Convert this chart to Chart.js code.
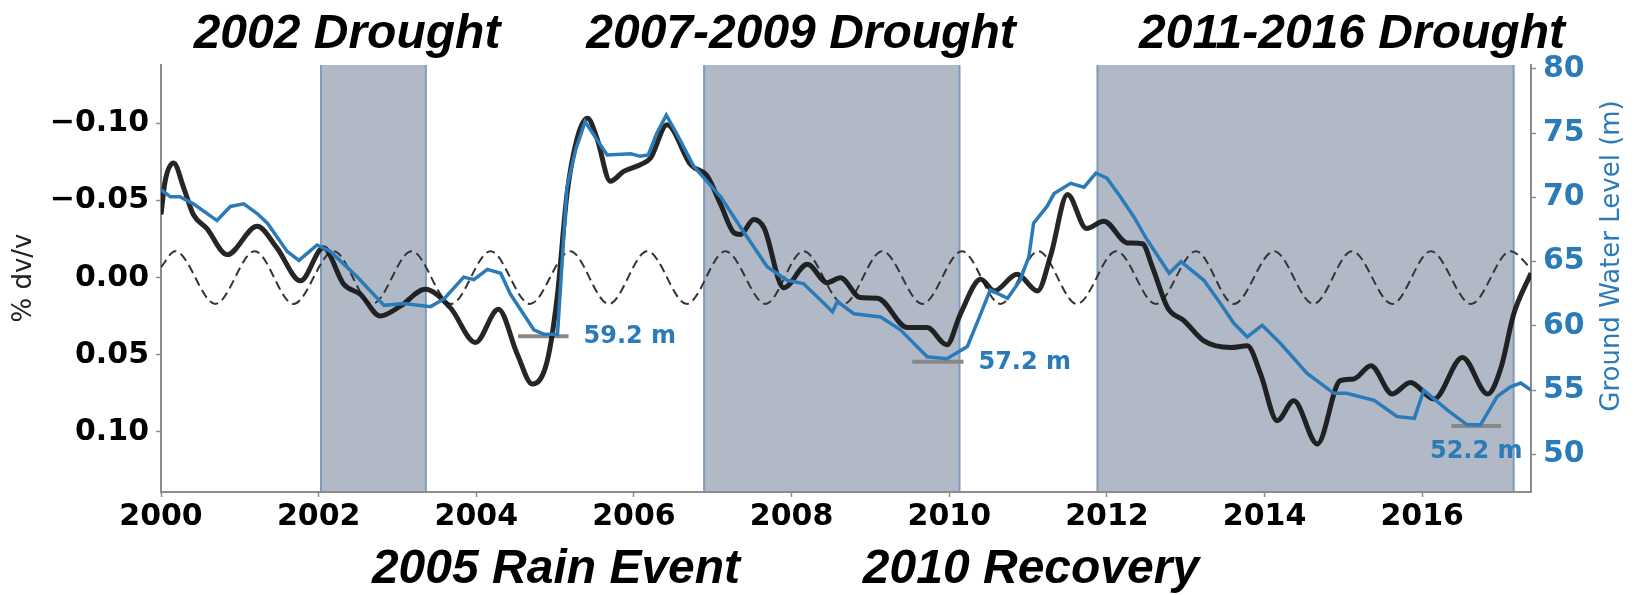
<!DOCTYPE html>
<html>
<head>
<meta charset="utf-8">
<script src="https://cdn.jsdelivr.net/npm/chart.js@4.4.0/dist/chart.umd.min.js"></script>
<style>
    html, body { margin: 0; padding: 0; background: #fff; }
    canvas { display: block; }
</style>
</head>
<body>
<canvas id="dvvChart" width="1635" height="595"></canvas>
<script>
// tick labels
const yearTicks = [2000, 2002, 2004, 2006, 2008, 2010, 2012, 2014, 2016];
const dvvTicks = [-0.10, -0.05, 0, 0.05, 0.10];
const levelTicks = [50, 55, 60, 65, 70, 75, 80];

// % dv/v (black, left axis, reversed)
const dvvYears = [2000.00, 2000.05, 2000.16, 2000.29, 2000.41, 2000.58, 2000.84, 2001.22, 2001.47, 2001.77,
    2002.06, 2002.32, 2002.53, 2002.78, 2003.04, 2003.35, 2003.67, 2003.99, 2004.28, 2004.52,
    2004.71, 2004.90, 2005.03, 2005.15, 2005.28, 2005.41, 2005.53, 2005.70, 2005.87, 2006.08,
    2006.21, 2006.42, 2006.72, 2006.93, 2007.10, 2007.27, 2007.35, 2007.52, 2007.65, 2007.90,
    2008.20, 2008.45, 2008.62, 2008.87, 2009.09, 2009.47, 2009.72, 2009.97, 2010.14, 2010.40,
    2010.57, 2010.86, 2011.12, 2011.29, 2011.50, 2011.74, 2011.96, 2012.26, 2012.45, 2012.58,
    2012.77, 2012.98, 2013.23, 2013.57, 2013.78, 2013.95, 2014.16, 2014.37, 2014.67, 2014.96,
    2015.13, 2015.35, 2015.62, 2015.85, 2016.15, 2016.51, 2016.83, 2017.00, 2017.16, 2017.38];
const dvvValues = [-0.041, -0.062, -0.0744, -0.058, -0.041, -0.032, -0.015, -0.0334, -0.0194, 0.002,
    -0.0194, 0.0043, 0.0108, 0.0248, 0.0183, 0.0075, 0.0194, 0.042, 0.0205, 0.0496,
    0.069, 0.0539, 0.0108, -0.054, -0.0906, -0.1035, -0.0906, -0.0626, -0.069, -0.0733,
    -0.0776, -0.0992, -0.0733, -0.0658, -0.0475, -0.0291, -0.0281, -0.0378, -0.0323, 0.0065,
    -0.0087, 0.0032, 0.0, 0.0129, 0.0133, 0.0323, 0.0323, 0.0435, 0.0237, 0.001,
    0.0086, -0.0022, 0.0086, -0.0151, -0.054, -0.032, -0.0367, -0.0226, -0.022, -0.0065,
    0.0194, 0.028, 0.041, 0.0453, 0.0442, 0.0625, 0.0927, 0.0798, 0.1078, 0.0668,
    0.0657, 0.0571, 0.0754, 0.0679, 0.0787, 0.0517, 0.0754, 0.0582, 0.0237, -0.003];

// ground water level in m (blue, right axis)
const levelYears = [2000.00, 2000.12, 2000.24, 2000.41, 2000.71, 2000.88, 2001.05, 2001.22, 2001.35, 2001.60,
    2001.75, 2001.98, 2002.15, 2002.49, 2002.83, 2003.08, 2003.42, 2003.59, 2003.84, 2003.97,
    2004.14, 2004.31, 2004.43, 2004.73, 2004.86, 2005.03, 2005.09, 2005.15, 2005.26, 2005.38,
    2005.53, 2005.66, 2005.96, 2006.08, 2006.18, 2006.29, 2006.41, 2006.54, 2006.76, 2007.10,
    2007.35, 2007.69, 2007.94, 2008.15, 2008.52, 2008.58, 2008.79, 2009.13, 2009.38, 2009.72,
    2009.97, 2010.23, 2010.40, 2010.52, 2010.74, 2010.90, 2011.01, 2011.07, 2011.24, 2011.33,
    2011.54, 2011.71, 2011.86, 2012.00, 2012.17, 2012.34, 2012.51, 2012.79, 2012.94, 2013.23,
    2013.44, 2013.61, 2013.78, 2013.97, 2014.20, 2014.54, 2014.88, 2015.04, 2015.39, 2015.68,
    2015.90, 2016.02, 2016.32, 2016.57, 2016.74, 2016.95, 2017.12, 2017.25, 2017.38];
const levelValues = [70.6, 70.05, 70.05, 69.5, 68.2, 69.3, 69.5, 68.75, 68.0, 65.8,
    65.1, 66.3, 65.8, 63.8, 61.6, 61.75, 61.5, 62.1, 63.8, 63.6,
    64.4, 64.1, 62.5, 59.7, 59.35, 59.35, 65.1, 70.8, 73.7, 75.9,
    74.5, 73.3, 73.4, 73.2, 73.3, 75.0, 76.4, 75.0, 72.4, 70.05,
    67.7, 64.6, 63.55, 63.3, 61.1, 61.9, 60.95, 60.7, 59.7, 57.6,
    57.45, 58.4, 60.95, 62.8, 62.15, 63.55, 65.4, 68.0, 69.3, 70.3,
    71.1, 70.8, 71.9, 71.5, 70.05, 68.5, 66.7, 64.1, 65.0, 63.55,
    61.75, 60.2, 59.15, 60.05, 58.65, 56.3, 54.75, 54.75, 54.2, 52.95,
    52.8, 55.0, 53.45, 52.3, 52.3, 54.5, 55.25, 55.55, 55.0];

// seasonal cycle (dashed), highs and lows
const seasonYears = [2000.00, 2000.18, 2000.69, 2001.19, 2001.68, 2002.19, 2002.68, 2003.18, 2003.68, 2004.18,
    2004.68, 2005.19, 2005.68, 2006.17, 2006.67, 2007.16, 2007.67, 2008.15, 2008.66, 2009.15,
    2009.66, 2010.16, 2010.65, 2011.13, 2011.62, 2012.12, 2012.62, 2013.13, 2013.61, 2014.12,
    2014.62, 2015.11, 2015.62, 2016.11, 2016.62, 2017.12, 2017.38];
const seasonValues = [-0.0068, -0.0172, 0.0170, -0.0172, 0.0170, -0.0172, 0.0170, -0.0172, 0.0170, -0.0172,
    0.0170, -0.0172, 0.0170, -0.0172, 0.0170, -0.0172, 0.0170, -0.0172, 0.0170, -0.0172,
    0.0170, -0.0172, 0.0170, -0.0172, 0.0170, -0.0172, 0.0170, -0.0172, 0.0170, -0.0172,
    0.0170, -0.0172, 0.0170, -0.0172, 0.0170, -0.0172, -0.006];

// drought periods
const droughtStart = [2002.03, 2006.89, 2011.88];
const droughtEnd = [2003.36, 2010.13, 2017.16];
const droughtTitles = ['2002 Drought', '2007-2009 Drought', '2011-2016 Drought'];
const eventTitles = ['2005 Rain Event', '2010 Recovery'];

// minimum water level markers
const minLevels = [59.2, 57.2, 52.2];
const minFrom = [2004.53, 2009.53, 2016.37];
const minTo = [2005.17, 2010.18, 2017.0];

const BLUE = '#2b7bb9';
const toPoints = (xs, ys) => xs.map((x, i) => ({ x: x, y: ys[i] }));

const shading = {
    id: 'shading',
    beforeDraw(chart) {
        const { ctx, chartArea: a, scales: { x } } = chart;
        ctx.save();
        droughtStart.forEach((s, i) => {
            const x0 = x.getPixelForValue(s);
            const x1 = x.getPixelForValue(droughtEnd[i]);
            ctx.fillStyle = '#b1b9c7';
            ctx.fillRect(x0, a.top, x1 - x0, a.bottom - a.top);
            ctx.strokeStyle = '#7f9bbb';
            ctx.lineWidth = 2;
            ctx.beginPath();
            ctx.moveTo(x0, a.top); ctx.lineTo(x0, a.bottom);
            ctx.moveTo(x1, a.top); ctx.lineTo(x1, a.bottom);
            ctx.stroke();
        });
        ctx.restore();
    }
};

const annotations = {
    id: 'annotations',
    afterDraw(chart) {
        const { ctx, scales: { x, y2 } } = chart;
        ctx.save();

        // big headings
        ctx.fillStyle = '#000';
        ctx.font = 'italic bold 48px "Liberation Sans"';
        ctx.textAlign = 'center';
        ctx.textBaseline = 'alphabetic';
        [347, 801, 1352].forEach((cx, i) => ctx.fillText(droughtTitles[i], cx, 48));
        [556, 1031].forEach((cx, i) => ctx.fillText(eventTitles[i], cx, 583));

        // axis titles
        ctx.font = '26px "DejaVu Sans"';
        ctx.textBaseline = 'middle';
        ctx.fillStyle = '#222';
        ctx.save();
        ctx.translate(24, 278);
        ctx.rotate(-Math.PI / 2);
        ctx.fillText('% dv/v', 0, 0);
        ctx.restore();
        ctx.fillStyle = BLUE;
        ctx.save();
        ctx.translate(1612, 256);
        ctx.rotate(-Math.PI / 2);
        ctx.fillText('Ground Water Level (m)', 0, 0);
        ctx.restore();

        // min level labels
        ctx.font = 'bold 24px "DejaVu Sans"';
        ctx.fillStyle = BLUE;
        minLevels.forEach((lvl, i) => {
            const txt = lvl.toFixed(1) + ' m';
            const yy = y2.getPixelForValue(lvl);
            if (i < 2) {
                ctx.textAlign = 'left';
                ctx.fillText(txt, x.getPixelForValue(minTo[i]) + 15, yy + 1);
            } else {
                ctx.textAlign = 'center';
                ctx.fillText(txt, x.getPixelForValue((minFrom[i] + minTo[i]) / 2), yy + 26);
            }
        });
        ctx.restore();
    }
};

const tickFont = { family: 'DejaVu Sans', weight: 'bold', size: 30 };
const gridOpts = { drawOnChartArea: false, tickLength: 5, tickColor: '#8c8c8c', tickWidth: 1.5 };
const borderOpts = { color: '#8c8c8c', width: 2 };

const datasets = [{
    data: toPoints(levelYears, levelValues),
    yAxisID: 'y2',
    borderColor: BLUE,
    borderWidth: 3.5,
    tension: 0,
    order: 1
}, {
    data: toPoints(dvvYears, dvvValues),
    yAxisID: 'y',
    borderColor: 'rgba(20,20,20,0.92)',
    borderWidth: 5,
    cubicInterpolationMode: 'monotone',
    order: 2
}, {
    data: toPoints(seasonYears, seasonValues),
    yAxisID: 'y',
    borderColor: '#333',
    borderWidth: 2,
    borderDash: [9, 5],
    cubicInterpolationMode: 'monotone',
    order: 4
}];

minLevels.forEach((lvl, i) => {
    datasets.push({
        data: [{ x: minFrom[i], y: lvl }, { x: minTo[i], y: lvl }],
        yAxisID: 'y2',
        borderColor: '#888',
        borderWidth: 4,
        order: 3
    });
});

new Chart(document.getElementById('dvvChart'), {
    type: 'line',
    data: { datasets: datasets },
    options: {
        responsive: false,
        animation: false,
        layout: { padding: { top: 65, left: 0, right: 0, bottom: 0 } },
        elements: { point: { radius: 0 } },
        plugins: { legend: { display: false }, tooltip: { enabled: false } },
        scales: {
            x: {
                type: 'linear',
                min: 2000,
                max: 2017.38,
                afterBuildTicks: s => { s.ticks = yearTicks.map(v => ({ value: v })); },
                afterFit: s => { s.height = 103; },
                grid: gridOpts,
                border: borderOpts,
                ticks: {
                    color: '#000', font: tickFont, padding: 2, maxRotation: 0,
                    callback: v => String(v)
                }
            },
            y: {
                position: 'left',
                reverse: true,
                min: -0.138,
                max: 0.139,
                afterBuildTicks: s => { s.ticks = dvvTicks.map(v => ({ value: v })); },
                afterFit: s => { s.width = 161; },
                grid: gridOpts,
                border: borderOpts,
                ticks: {
                    color: '#000', font: tickFont, padding: 7,
                    callback: v => (v < -1e-9 ? '\u2212' + Math.abs(v).toFixed(2) : Math.abs(v).toFixed(2))
                }
            },
            y2: {
                position: 'right',
                min: 47.07,
                max: 80.31,
                afterBuildTicks: s => { s.ticks = levelTicks.map(v => ({ value: v })); },
                afterFit: s => { s.width = 104; },
                grid: gridOpts,
                border: borderOpts,
                ticks: { color: BLUE, font: tickFont, padding: 7, callback: v => String(v) }
            }
        }
    },
    plugins: [shading, annotations]
});
</script>
</body>
</html>
